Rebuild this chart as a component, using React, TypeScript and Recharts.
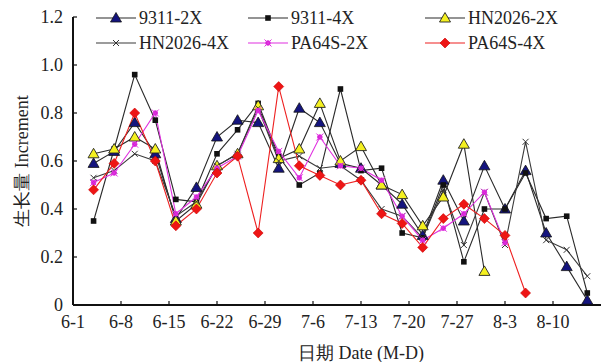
import React from 'react';
import { LineChart, Line, XAxis, YAxis } from 'recharts';

// sampling day offsets counted from 6-1
const samplingDays = [3, 6, 9, 12, 15, 18, 21, 24, 27, 30, 33, 36, 39, 42, 45, 48, 51, 54, 57, 60, 63, 66, 69, 72, 75];

const xTickDays = [0, 7, 14, 21, 28, 35, 42, 49, 56, 63, 70];
const xTickLabels = ['6-1', '6-8', '6-15', '6-22', '6-29', '7-6', '7-13', '7-20', '7-27', '8-3', '8-10'];
const yTicks = [0, 0.2, 0.4, 0.6, 0.8, 1.0, 1.2];

const s9311_2X = [0.59, 0.64, 0.76, 0.63, 0.36, 0.49, 0.70, 0.77, 0.76, 0.57, 0.82, 0.76, 0.59, 0.57, 0.50, 0.42, 0.29, 0.52, 0.35, 0.58, 0.40, 0.56, 0.30, 0.16, 0.02];
const s9311_4X = [0.35, 0.65, 0.96, 0.77, 0.44, 0.43, 0.63, 0.73, 0.84, 0.62, 0.50, 0.55, 0.90, 0.56, 0.57, 0.30, 0.28, 0.50, 0.18, 0.40, 0.40, 0.55, 0.36, 0.37, 0.05];
const sHN2026_2X = [0.63, 0.65, 0.70, 0.65, 0.35, 0.42, 0.58, 0.63, 0.83, 0.61, 0.65, 0.84, 0.60, 0.66, 0.50, 0.46, 0.33, 0.45, 0.67, 0.14];
const sHN2026_4X = [0.53, 0.56, 0.63, 0.60, 0.37, 0.43, 0.58, 0.63, 0.82, 0.60, 0.62, 0.57, 0.58, 0.52, 0.40, 0.37, 0.28, 0.48, 0.25, 0.47, 0.25, 0.68, 0.27, 0.23, 0.12];
const sPA64S_2X = [0.51, 0.55, 0.67, 0.80, 0.38, 0.45, 0.57, 0.62, 0.81, 0.64, 0.53, 0.70, 0.58, 0.57, 0.52, 0.37, 0.27, 0.32, 0.38, 0.47, 0.26];
const sPA64S_4X = [0.48, 0.59, 0.80, 0.60, 0.33, 0.40, 0.55, 0.62, 0.30, 0.91, 0.58, 0.54, 0.50, 0.52, 0.38, 0.34, 0.24, 0.36, 0.42, 0.36, 0.29, 0.05];

type MarkerKind = 'triNavy' | 'square' | 'triYellow' | 'cross' | 'star' | 'diamond';

const seriesList: { key: string; name: string; values: number[]; color: string; marker: MarkerKind }[] = [
  { key: 'a', name: '9311-2X', values: s9311_2X, color: '#2a2a2a', marker: 'triNavy' },
  { key: 'b', name: '9311-4X', values: s9311_4X, color: '#2a2a2a', marker: 'square' },
  { key: 'c', name: 'HN2026-2X', values: sHN2026_2X, color: '#2a2a2a', marker: 'triYellow' },
  { key: 'd', name: 'HN2026-4X', values: sHN2026_4X, color: '#3a3a3a', marker: 'cross' },
  { key: 'e', name: 'PA64S-2X', values: sPA64S_2X, color: '#e030e0', marker: 'star' },
  { key: 'f', name: 'PA64S-4X', values: sPA64S_4X, color: '#ee2020', marker: 'diamond' },
];

const data = samplingDays.map((day, i) => {
  const row: Record<string, number | undefined> = { day };
  seriesList.forEach((s) => {
    row[s.key] = i < s.values.length ? s.values[i] : undefined;
  });
  return row;
});

const FONT = "Liberation Serif, serif";

function Marker({ kind, cx, cy }: { kind: MarkerKind; cx: number; cy: number }) {
  switch (kind) {
    case 'triNavy':
      return <polygon points={`${cx},${cy - 5.5} ${cx - 5.5},${cy + 4} ${cx + 5.5},${cy + 4}`} fill="#14147e" stroke="#111" strokeWidth={0.8} />;
    case 'triYellow':
      return <polygon points={`${cx},${cy - 5.5} ${cx - 5.5},${cy + 4} ${cx + 5.5},${cy + 4}`} fill="#f4f020" stroke="#222" strokeWidth={0.9} />;
    case 'square':
      return <rect x={cx - 2.8} y={cy - 2.8} width={5.6} height={5.6} fill="#111" />;
    case 'cross':
      return (
        <g stroke="#333" strokeWidth={1}>
          <line x1={cx - 3} y1={cy - 3} x2={cx + 3} y2={cy + 3} />
          <line x1={cx - 3} y1={cy + 3} x2={cx + 3} y2={cy - 3} />
        </g>
      );
    case 'star':
      return (
        <g stroke="#e030e0" strokeWidth={1}>
          <circle cx={cx} cy={cy} r={2.3} fill="#d020d0" />
          <line x1={cx - 3.5} y1={cy - 3.5} x2={cx + 3.5} y2={cy + 3.5} />
          <line x1={cx - 3.5} y1={cy + 3.5} x2={cx + 3.5} y2={cy - 3.5} />
        </g>
      );
    case 'diamond':
      return <polygon points={`${cx},${cy - 5} ${cx + 5},${cy} ${cx},${cy + 5} ${cx - 5},${cy}`} fill="#ee1515" stroke="#c00" strokeWidth={0.6} />;
  }
  return null;
}

const makeDot = (kind: MarkerKind, key: string) => (props: any) => {
  const { cx, cy, index, value } = props;
  if (cx == null || cy == null || value == null || Number.isNaN(cy)) {
    return <g key={`${key}-${index}`} />;
  }
  return (
    <g key={`${key}-${index}`}>
      <Marker kind={kind} cx={cx} cy={cy} />
    </g>
  );
};

const legendCols = [96, 248, 425];
const legendRows = [18, 43];

function LegendOverlay() {
  return (
    <div style={{ position: 'absolute', left: 0, top: 0, width: 604, height: 60, pointerEvents: 'none' }}>
      {seriesList.map((s, i) => {
        const col = i % 3;
        const row = Math.floor(i / 3);
        const x = legendCols[col];
        const y = legendRows[row];
        return (
          <div key={s.key} style={{ position: 'absolute', left: x, top: y - 11, height: 22, display: 'flex', alignItems: 'center' }}>
            <svg width={40} height={22} style={{ display: 'block' }}>
              <line x1={0} y1={11} x2={40} y2={11} stroke={s.color} strokeWidth={1.2} />
              <Marker kind={s.marker} cx={20} cy={11} />
            </svg>
            <span style={{ marginLeft: 3, fontFamily: FONT, fontSize: 18, color: '#222', lineHeight: '22px', whiteSpace: 'nowrap' }}>{s.name}</span>
          </div>
        );
      })}
    </div>
  );
}

export default function App() {
  return (
    <div style={{ position: 'absolute', left: 0, top: 0, width: 604, height: 362, background: '#fff', fontFamily: FONT }}>
      <LineChart width={604} height={362} data={data} margin={{ top: 17, right: 3, bottom: 0, left: 0 }}>
        <XAxis
          dataKey="day"
          type="number"
          domain={[0, 77]}
          ticks={xTickDays}
          tickFormatter={(v: number) => xTickLabels[xTickDays.indexOf(v)] ?? ''}
          height={57}
          axisLine={{ stroke: '#111', strokeWidth: 2 }}
          tickLine={{ stroke: '#111', strokeWidth: 1.2 }}
          tickSize={-4}
          tickMargin={14}
          tick={{ fill: '#222', fontSize: 18, fontFamily: FONT }}
          interval={0}
          label={{
            content: (p: any) => {
              const vb = p.viewBox || { x: 73, y: 305, width: 528, height: 57 };
              const cx = vb.x + vb.width / 2 + 24;
              return (
                <text x={cx} y={vb.y + 54} textAnchor="middle" fill="#222" fontSize={18} fontFamily={FONT}>
                  日期 Date (M-D)
                </text>
              );
            },
          }}
        />
        <YAxis
          type="number"
          domain={[0, 1.2]}
          ticks={yTicks}
          width={73}
          tickFormatter={(v: number) => (v === 0 ? '0' : v.toFixed(1))}
          axisLine={{ stroke: '#111', strokeWidth: 2 }}
          tickLine={{ stroke: '#111', strokeWidth: 1.2 }}
          tickSize={-4}
          tickMargin={14}
          tick={{ fill: '#222', fontSize: 18, fontFamily: FONT }}
          interval={0}
          label={{
            content: (p: any) => {
              const vb = p.viewBox || { x: 0, y: 17, width: 73, height: 288 };
              const lx = vb.x + 22;
              const ly = vb.y + vb.height / 2;
              return (
                <text x={lx} y={ly} transform={`rotate(-90 ${lx} ${ly})`} textAnchor="middle" dominantBaseline="central" fill="#222" fontSize={18} fontFamily={FONT}>
                  生长量 Increment
                </text>
              );
            },
          }}
        />
        {seriesList.map((s) => (
          <Line
            key={s.key}
            dataKey={s.key}
            name={s.name}
            type="linear"
            stroke={s.color}
            strokeWidth={1.1}
            dot={makeDot(s.marker, s.key)}
            activeDot={false}
            connectNulls={false}
            isAnimationActive={false}
          />
        ))}
      </LineChart>
      <LegendOverlay />
    </div>
  );
}
